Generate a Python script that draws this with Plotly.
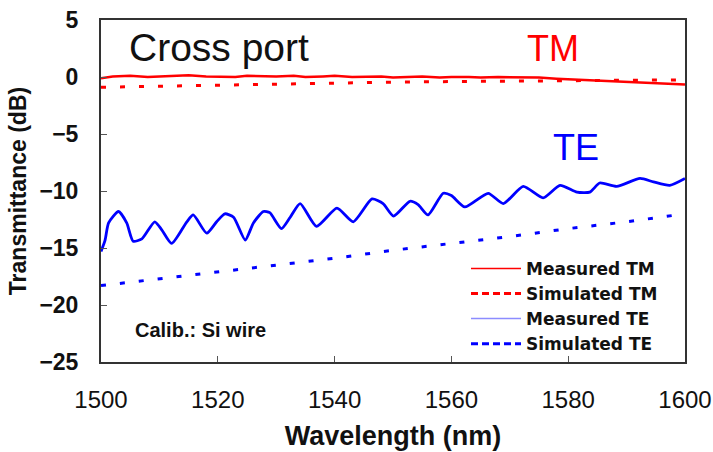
import plotly.graph_objects as go

# Measured TM transmittance (cross port)
tm_meas_wl = [1500, 1502, 1505, 1508, 1510, 1513, 1515, 1518, 1520, 1523, 1525, 1528, 1530,
              1533, 1535, 1538, 1540, 1543, 1545, 1548, 1550, 1553, 1555, 1558, 1560, 1563,
              1565, 1568, 1570, 1573, 1575, 1578, 1580, 1583, 1585, 1588, 1590, 1593, 1595,
              1598, 1600]
tm_meas_db = [-0.1, 0.05, 0.1, 0.0, 0.05, 0.1, 0.15, 0.05, 0.05, 0.0, 0.1, 0.05, 0.05,
              0.1, 0.0, 0.05, 0.1, 0.0, 0.0, 0.05, -0.05, 0.0, 0.05, -0.05, 0.0, 0.0,
              -0.05, 0.0, 0.0, -0.05, -0.05, -0.15, -0.2, -0.25, -0.3, -0.4, -0.45, -0.5, -0.55,
              -0.6, -0.65]

# Simulated TM transmittance
tm_sim_wl = [1500, 1510, 1520, 1530, 1540, 1550, 1560, 1570, 1580, 1590, 1600]
tm_sim_db = [-0.9, -0.8, -0.7, -0.6, -0.5, -0.45, -0.4, -0.35, -0.3, -0.3, -0.25]

# Measured TE transmittance (oscillating)
te_meas_wl = [1500.0, 1500.7, 1501.3, 1503.0, 1504.4, 1505.5, 1507.0, 1509.2, 1510.4, 1512.1,
              1514.7, 1515.8, 1518.1, 1519.8, 1521.2, 1522.7, 1524.7, 1526.1, 1527.8, 1528.9,
              1530.9, 1532.4, 1534.1, 1536.9, 1540.4, 1543.2, 1546.4, 1548.3, 1550.1, 1552.9,
              1554.3, 1556.0, 1558.6, 1560.0, 1562.3, 1566.3, 1568.9, 1572.3, 1575.7, 1578.6,
              1581.5, 1583.7, 1585.4, 1588.3, 1592.3, 1594.6, 1597.4, 1600.0]
te_meas_db = [-15.3, -14.3, -12.8, -11.8, -12.8, -14.4, -14.2, -12.7, -13.4, -14.6,
              -12.7, -12.1, -13.7, -12.7, -12.0, -12.3, -14.3, -12.8, -11.8, -11.9,
              -13.3, -12.3, -11.1, -13.1, -11.5, -12.7, -10.7, -11.1, -12.2, -10.9,
              -11.2, -12.1, -10.2, -10.4, -11.4, -10.2, -11.1, -9.6, -10.6, -9.5,
              -10.1, -10.1, -9.3, -9.6, -8.9, -9.2, -9.5, -8.9]

# Simulated TE transmittance
te_sim_wl = [1500, 1510, 1520, 1530, 1540, 1550, 1560, 1570, 1580, 1590, 1600]
te_sim_db = [-18.3, -17.7, -17.1, -16.5, -15.9, -15.2, -14.6, -14.0, -13.3, -12.7, -12.0]

x_ticks = [1500, 1520, 1540, 1560, 1580, 1600]
y_ticks = [5, 0, -5, -10, -15, -20, -25]

RED = "#ff0000"
BLUE = "#0000ff"
DASH = "5px,14px"
FONT = "Liberation Sans, Arial, sans-serif"
BOLD_FONT = "DejaVu Sans, sans-serif"

fig = go.Figure()

fig.add_trace(go.Scatter(x=tm_meas_wl, y=tm_meas_db, mode="lines", showlegend=False,
                         line=dict(color=RED, width=2.5)))
fig.add_trace(go.Scatter(x=tm_sim_wl, y=tm_sim_db, mode="lines", showlegend=False,
                         line=dict(color=RED, width=3, dash=DASH)))
fig.add_trace(go.Scatter(x=te_meas_wl, y=te_meas_db, mode="lines", showlegend=False,
                         line=dict(color=BLUE, width=2.8, shape="spline", smoothing=0.6)))
fig.add_trace(go.Scatter(x=te_sim_wl, y=te_sim_db, mode="lines", showlegend=False,
                         line=dict(color=BLUE, width=3, dash=DASH)))

# Legend keys
legend_keys = [
    ("Measured TM", dict(color=RED, width=1.5)),
    ("Simulated TM", dict(color=RED, width=3, dash="7px,4px")),
    ("Measured TE", dict(color="#8c8cff", width=1.5)),
    ("Simulated TE", dict(color=BLUE, width=3, dash="7px,4px")),
]
for name, ln in legend_keys:
    fig.add_trace(go.Scatter(x=[None], y=[None], mode="lines", name=name, line=ln))

fig.add_annotation(x=1520.2, y=2.6, text="Cross port", showarrow=False,
                   font=dict(family=FONT, size=39, color="#111111"))
fig.add_annotation(x=1577.4, y=2.5, text="TM", showarrow=False,
                   font=dict(family=FONT, size=36, color=RED))
fig.add_annotation(x=1581.3, y=-6.2, text="TE", showarrow=False,
                   font=dict(family=FONT, size=36, color=BLUE))
fig.add_annotation(x=1517, y=-22.2, text="<b>Calib.: Si wire</b>", showarrow=False,
                   font=dict(family=FONT, size=20, color="#111111"))

fig.update_xaxes(range=[1500, 1600], tickvals=x_ticks, ticks="inside", ticklen=6,
                 tickcolor="#555555", showline=True, mirror=True, linecolor="#333333",
                 linewidth=2, showgrid=False, zeroline=False, automargin=False,
                 tickfont=dict(family=FONT, size=24, color="#111111"),
                 ticklabelstandoff=15,
                 title=dict(text="<b>Wavelength (nm)</b>", standoff=14,
                            font=dict(family=FONT, size=27, color="#111111")))
fig.update_yaxes(range=[-25, 5], tickvals=y_ticks, ticks="inside", ticklen=6,
                 tickcolor="#555555", showline=True, mirror=True, linecolor="#333333",
                 linewidth=2, showgrid=False, zeroline=False, automargin=False,
                 tickfont=dict(family=FONT, size=23, color="#111111", weight="bold"),
                 ticklabelstandoff=16,
                 title=dict(text="<b>Transmittance (dB)</b>", standoff=6,
                            font=dict(family=FONT, size=23, color="#111111")))

fig.update_layout(
    width=713, height=452,
    margin=dict(l=101, r=28, t=20, b=90),
    paper_bgcolor="white", plot_bgcolor="white",
    showlegend=True,
    legend=dict(x=0.625, y=0.325, xanchor="left", yanchor="top",
                bgcolor="rgba(0,0,0,0)", itemwidth=50, tracegroupgap=0,
                font=dict(family=BOLD_FONT, size=17, color="#111111", weight="bold")),
)

fig.write_html("out.html")
